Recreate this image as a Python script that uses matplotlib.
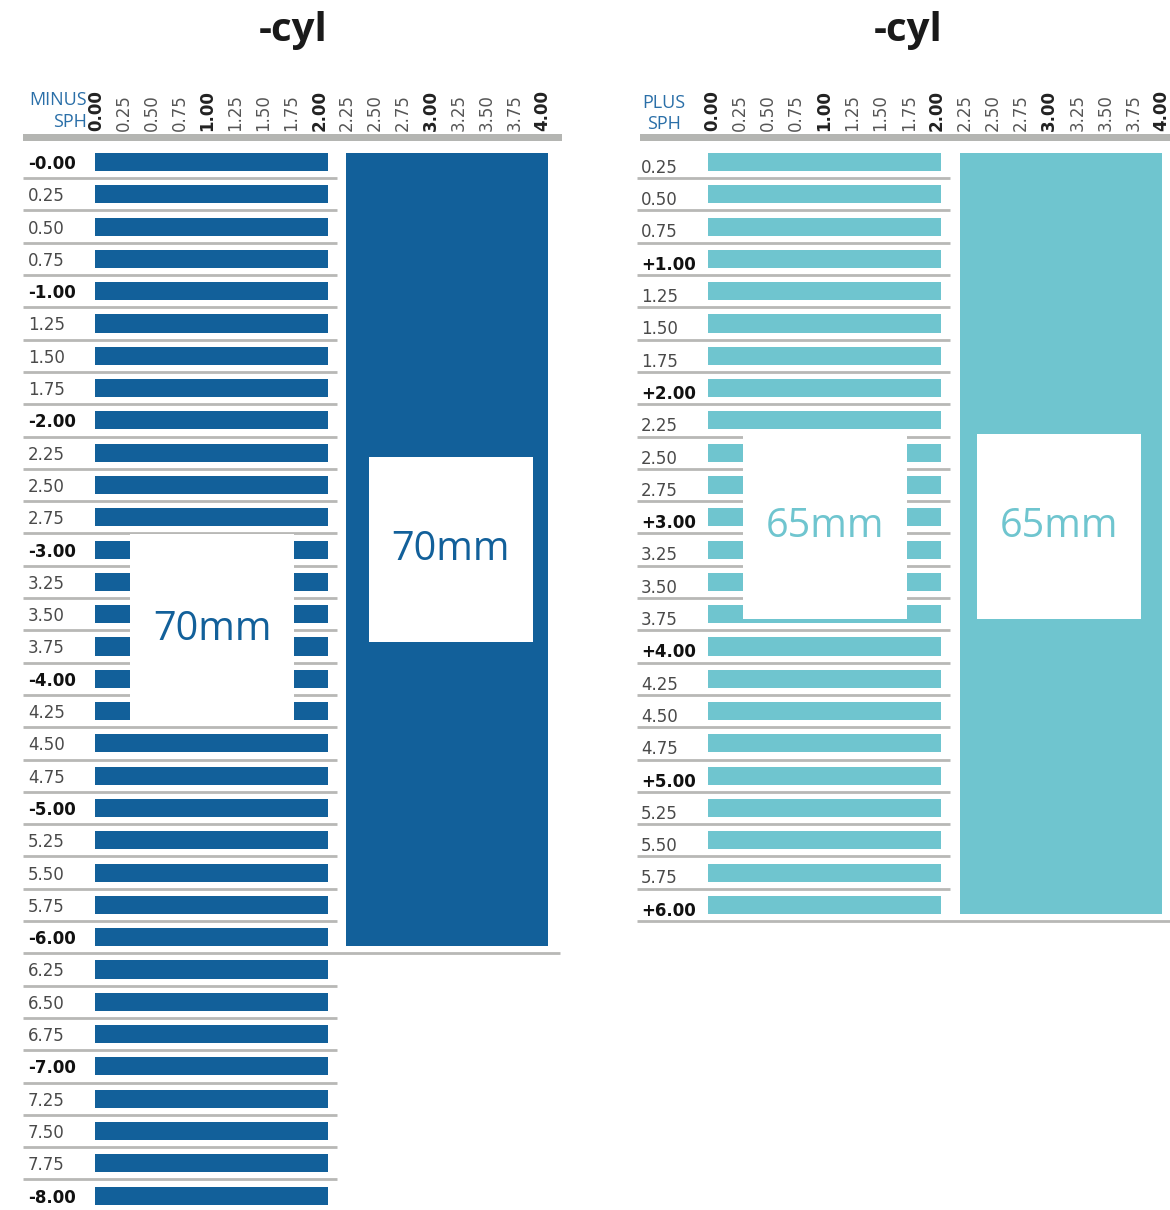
import matplotlib
matplotlib.use("Agg")
import matplotlib.pyplot as plt
from matplotlib.patches import Rectangle

# ---------------- data ----------------
cyl_ticks = [0.00, 0.25, 0.50, 0.75, 1.00, 1.25, 1.50, 1.75, 2.00,
             2.25, 2.50, 2.75, 3.00, 3.25, 3.50, 3.75, 4.00]

minus_sph = [0.00, 0.25, 0.50, 0.75, 1.00, 1.25, 1.50, 1.75, 2.00,
             2.25, 2.50, 2.75, 3.00, 3.25, 3.50, 3.75, 4.00,
             4.25, 4.50, 4.75, 5.00, 5.25, 5.50, 5.75, 6.00,
             6.25, 6.50, 6.75, 7.00, 7.25, 7.50, 7.75, 8.00]
plus_sph = [0.25, 0.50, 0.75, 1.00, 1.25, 1.50, 1.75, 2.00,
            2.25, 2.50, 2.75, 3.00, 3.25, 3.50, 3.75, 4.00,
            4.25, 4.50, 4.75, 5.00, 5.25, 5.50, 5.75, 6.00]

# availability ranges (cyl range for every sph in sph range)
minus_bar_cyl = (0.00, 2.00)
minus_bar_sph = (0.00, 8.00)
minus_block_cyl = (2.25, 4.00)
minus_block_sph = (0.00, 6.00)
plus_bar_cyl = (0.00, 2.00)
plus_bar_sph = (0.25, 6.00)
plus_block_cyl = (2.25, 4.00)
plus_block_sph = (0.25, 6.00)

minus_diameter = "70mm"
plus_diameter = "65mm"

# ---------------- style ----------------
BLUE = "#12609a"
TEAL = "#6fc5cf"
HDR_BLUE = "#2a6fa8"
GRAY_LINE = "#b8b8b6"
HDR_BAR = "#b4b5b2"
FONT = "Open Sans"
LBL_FONT = "DejaVu Sans"

W, H = 1170, 1210
fig = plt.figure(figsize=(W / 100, H / 100), dpi=100)
fig.patch.set_facecolor("white")

ROW_PX = 32.3
ROW0_PX = 162


def make_axes(px_left, px_right, x0_px, px_per_cyl):
    ax = fig.add_axes([px_left / W, 0, (px_right - px_left) / W, 1])
    ax.set_xlim((px_left - x0_px) / px_per_cyl, (px_right - x0_px) / px_per_cyl)
    ax.set_ylim((H - ROW0_PX) / ROW_PX, -ROW0_PX / ROW_PX)
    ax.axis("off")
    return ax


def sph_label(v, sign):
    if abs(v - round(v)) < 1e-9:
        return f"{sign}{v:.2f}", True
    return f"{v:.2f}", False


def draw_panel(ax, sph, sign, color, bar_cyl, bar_sph, block_cyl, block_sph,
               bar_pad, block_pad,
               line_lo, line_hi, long_line_hi, hdr_lo, hdr_hi, label_x,
               label_dy, hdr_text, hdr_x, hdr_ha, hdr_y, boxes, diam,
               title_x):
    n = len(sph)
    rows = list(range(n))
    # title
    ax.text(title_x, -4.07, "-cyl", ha="center", va="center", fontsize=29,
            fontweight="bold", color="#1a1a1a", family=FONT)
    # header labels
    ax.text(hdr_x, hdr_y[0], hdr_text[0], ha=hdr_ha, va="center", fontsize=13,
            color=HDR_BLUE, family=FONT)
    ax.text(hdr_x, hdr_y[1], hdr_text[1], ha=hdr_ha, va="center", fontsize=13,
            color=HDR_BLUE, family=FONT)
    # column labels
    for c in cyl_ticks:
        bold = abs(c - round(c)) < 1e-9
        ax.text(c, -0.95, f"{c:.2f}", rotation=90, ha="center", va="bottom",
                fontsize=12, fontweight="bold" if bold else "normal",
                color="#222222" if bold else "#555555", family=LBL_FONT)
    # header bar
    ax.add_patch(Rectangle((hdr_lo, -0.87), hdr_hi - hdr_lo, 0.22,
                           facecolor=HDR_BAR, edgecolor="none", zorder=2))
    # row labels + separator lines
    for r, v in zip(rows, sph):
        txt, bold = sph_label(v, sign)
        ax.text(label_x, r + label_dy, txt, ha="left", va="center",
                fontsize=12, fontweight="bold" if bold else "normal",
                color="#111111" if bold else "#4a4a4a", family=LBL_FONT)
        hi = long_line_hi if abs(v - block_sph[1]) < 1e-9 else line_hi
        ax.plot([line_lo, hi], [r + 0.5, r + 0.5], color=GRAY_LINE, lw=2,
                solid_capstyle="butt", zorder=1)
    # bars
    bar_rows = [r for r, v in zip(rows, sph) if bar_sph[0] <= v <= bar_sph[1]]
    ax.barh(bar_rows, bar_cyl[1] - bar_cyl[0] + bar_pad[0] + bar_pad[1],
            left=bar_cyl[0] - bar_pad[0],
            height=0.56, color=color, edgecolor="none", zorder=3)
    # block
    blk_rows = [r for r, v in zip(rows, sph) if block_sph[0] <= v <= block_sph[1]]
    top = min(blk_rows) - 0.28
    bot = max(blk_rows) + 0.28
    ax.bar(block_cyl[0] - block_pad[0], bot - top,
           width=block_cyl[1] - block_cyl[0] + block_pad[0] + block_pad[1],
           bottom=top, align="edge", color=color, edgecolor="none", zorder=3)
    # diameter boxes
    for (x0, x1, y0, y1) in boxes:
        ax.add_patch(Rectangle((x0, y0), x1 - x0, y1 - y0, facecolor="white",
                               edgecolor="none", zorder=4))
        ax.text((x0 + x1) / 2, (y0 + y1) / 2, diam, ha="center", va="center",
                fontsize=28.5, color=color, family=FONT, zorder=5)


# left panel (minus)
axL = make_axes(0, 600, 96, 111.6)
draw_panel(axL, minus_sph, "-", BLUE, minus_bar_cyl, minus_bar_sph,
           minus_block_cyl, minus_block_sph,
           bar_pad=(0.01, 0.08), block_pad=(0.01, 0.05),
           line_lo=-0.654, line_hi=2.16, long_line_hi=4.158,
           hdr_lo=-0.654, hdr_hi=4.176, label_x=-0.609, label_dy=0.06,
           hdr_text=("MINUS", "SPH"), hdr_x=-0.081, hdr_ha="right",
           hdr_y=(-1.92, -1.24),
           boxes=[(0.305, 1.774, 11.53, 17.41), (2.446, 3.916, 9.13, 14.86)],
           diam=minus_diameter, title_x=1.765)

# right panel (plus)
axR = make_axes(600, 1170, 712, 112.4)
draw_panel(axR, plus_sph, "+", TEAL, plus_bar_cyl, plus_bar_sph,
           plus_block_cyl, plus_block_sph,
           bar_pad=(0.035, 0.04), block_pad=(0.045, 0.0),
           line_lo=-0.667, line_hi=2.117, long_line_hi=4.1,
           hdr_lo=-0.64, hdr_hi=4.1, label_x=-0.632, label_dy=0.18,
           hdr_text=("PLUS", "SPH"), hdr_x=-0.427, hdr_ha="center",
           hdr_y=(-1.83, -1.18),
           boxes=[(0.276, 1.735, 8.42, 14.15), (2.358, 3.817, 8.42, 14.15)],
           diam=plus_diameter, title_x=1.744)

fig.savefig("out.png", dpi=100, facecolor="white")
